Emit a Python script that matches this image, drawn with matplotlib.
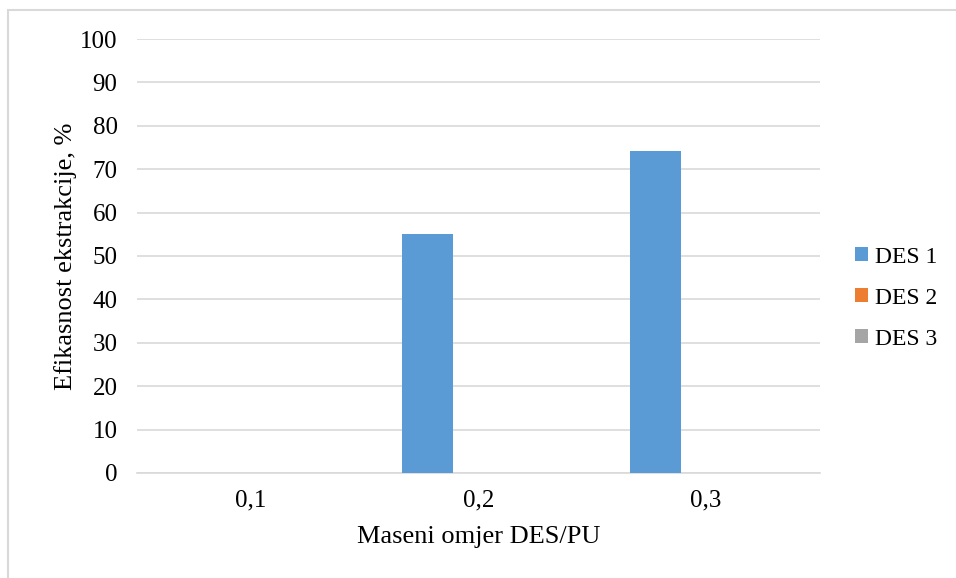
import matplotlib
matplotlib.use("Agg")
import matplotlib.pyplot as plt
import numpy as np
from matplotlib.patches import Rectangle

plt.rcParams['font.family'] = ['Liberation Serif', 'DejaVu Serif']

categories = ["0,1", "0,2", "0,3"]
des1 = [0, 55, 74.3]
des2 = [0, 0, 0]
des3 = [0, 0, 0]
series_names = ["DES 1", "DES 2", "DES 3"]
colors = ["#5b9bd5", "#ed7d31", "#a5a5a5"]

fig = plt.figure(figsize=(9.56, 5.78), dpi=100)
ax = fig.add_axes([0.1433, 0.1817, 0.7144, 0.7508])

x = np.arange(len(categories))
w = 0.224
for i, (vals, name, c) in enumerate(zip([des1, des2, des3], series_names, colors)):
    ax.bar(x + (i - 1) * w, vals, width=w, color=c, label=name, zorder=3)

ax.set_xlim(-0.5, 2.5)
ax.set_ylim(0, 100)
ax.set_yticks(range(0, 101, 10))
ax.set_xticks(x)
ax.set_xticklabels(categories)
ax.yaxis.grid(True, color="#d9d9d9", linewidth=1.2, zorder=0)
for s in ["top", "right", "left"]:
    ax.spines[s].set_visible(False)
ax.spines["bottom"].set_color("#d9d9d9")
ax.spines["bottom"].set_linewidth(1.2)
ax.tick_params(axis="both", length=0, labelsize=18, colors="black")
ax.tick_params(axis="y", pad=14)
ax.tick_params(axis="x", pad=12)
ax.set_ylabel("Efikasnost ekstrakcije, %", fontsize=19, labelpad=2)
ax.set_xlabel("Maseni omjer DES/PU", fontsize=19, labelpad=10)

ax.legend(loc="center left", bbox_to_anchor=(1.0, 0.403), frameon=False,
          fontsize=17, handlelength=0.55, handleheight=0.55, handletextpad=0.3,
          labelspacing=0.85, borderaxespad=1.1)

fig.patches.append(Rectangle((0.008, -0.1), 1.2, 1.083, transform=fig.transFigure,
                             fill=False, edgecolor="#d9d9d9", linewidth=1.5))

fig.savefig("out.png", dpi=100)
